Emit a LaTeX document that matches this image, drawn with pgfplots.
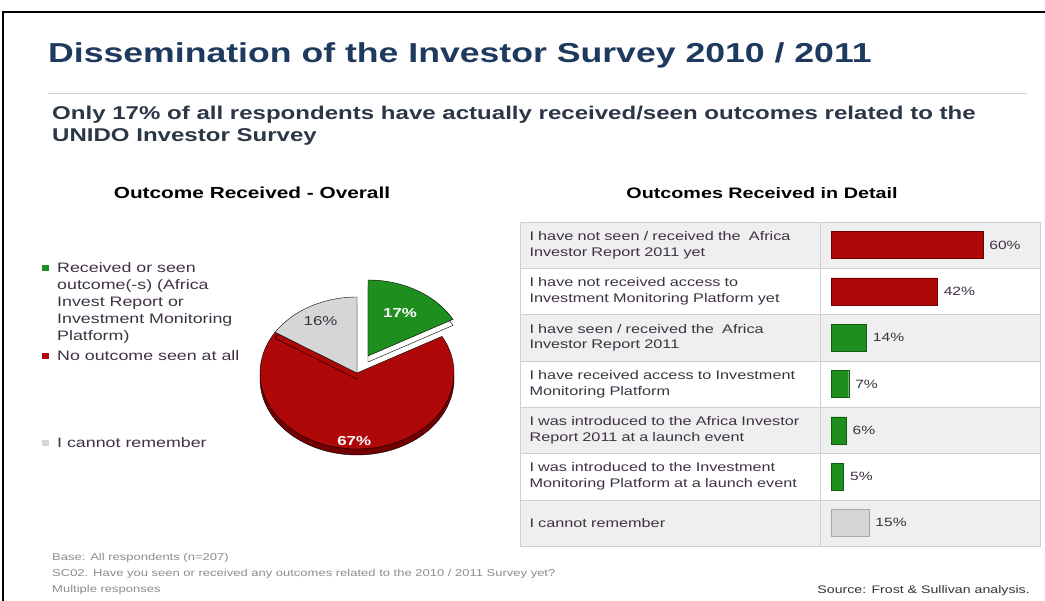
\documentclass[border=0pt]{standalone}
\usepackage{pgfplots}
\pgfplotsset{compat=1.18}
\usepackage{fontspec}
\setmainfont{Liberation Sans}[FakeStretch=1.3]
\pgfkeys{/pgf/number format/assume math mode=true}

\definecolor{navy}{HTML}{1F3A5F}
\definecolor{subcol}{HTML}{2B3646}
\definecolor{txt}{HTML}{3E3242}
\definecolor{foot}{HTML}{8C8C8C}
\definecolor{pgreen}{HTML}{1E8E1E}
\definecolor{pgreenD}{HTML}{0E5E0E}
\definecolor{pred}{HTML}{AE0808}
\definecolor{predD}{HTML}{720000}
\definecolor{pgray}{HTML}{D6D6D6}
\definecolor{pgrayD}{HTML}{A8A8A8}
\definecolor{rowgray}{HTML}{EFEFEF}
\definecolor{gridc}{HTML}{CFCFCF}

% one pie wedge per plot: the point is the wedge's apex, the meta value its share
% args: fill colour, side colour, label colour, label radius factor, label series
\gdef\pieacc{0}
\pgfplotsset{
  wedge/.style n args={5}{scatter, only marks, mark=text, text mark={}, point meta=explicit,
    scatter/@pre marker code/.code={%
      \pgfmathsetmacro\sh{\pgfplotspointmetatransformed}%
      \pgfmathsetmacro\pa{90-3.6*\pieacc}%
      \pgfmathsetmacro\pb{\pa-3.6*\sh}%
      \pgfmathsetmacro\pmid{(\pa+\pb)/2}%
      \pgfmathsetmacro\newacc{\pieacc+\sh}\global\let\pieacc\newacc
      \fill[fill=#2] (0pt,-6pt) -- +(\pa:97pt and 76pt) arc[start angle=\pa, end angle=\pb, x radius=97pt, y radius=76pt] -- cycle;
      \fill[fill=#1] (0pt,0pt) -- (\pa:97pt and 76pt) arc[start angle=\pa, end angle=\pb, x radius=97pt, y radius=76pt] -- cycle;
      \node[text=#3, font=\fontsize{13}{13}\selectfont\fontseries{#5}\selectfont] at (\pmid:{#4*97pt} and {#4*76pt}) {\pgfmathprintnumber[fixed,precision=0]{\sh}\%};
    },
    scatter/@post marker code/.code={}}
}

\begin{document}
\begin{tikzpicture}[x=1pt,y=1pt]
\path[use as bounding box] (0,0) rectangle (1045,601);
\draw[line width=2pt] (3,0) -- (3,589) -- (1045,589);

% headings
\node[anchor=base west, inner sep=0, text=navy, font=\fontsize{27.4}{30}\selectfont\bfseries] at (48,538) {Dissemination of the Investor Survey 2010 / 2011};
\draw[gridc] (48,508) -- (1027,508);
\node[anchor=base west, inner sep=0, text=subcol, font=\fontsize{18.5}{22}\selectfont\bfseries] at (52,481) {Only 17\% of all respondents have actually received/seen outcomes related to the};
\node[anchor=base west, inner sep=0, text=subcol, font=\fontsize{18.5}{22}\selectfont\bfseries] at (52,459) {UNIDO Investor Survey};
\node[anchor=base, inner sep=0, font=\fontsize{16}{18}\selectfont\bfseries] at (252,402) {Outcome Received - Overall};
\node[anchor=base, inner sep=0, font=\fontsize{15.2}{18}\selectfont\bfseries] at (762,402) {Outcomes Received in Detail};

% pie legend
\fill[pgreen] (42,330) rectangle (49,336);
\fill[pred] (42,242) rectangle (49,248);
\fill[pgray] (42,155) rectangle (49,161);
\begin{scope}[every node/.style={anchor=base west, inner sep=0, text=txt, font=\fontsize{13.7}{17}\selectfont}]
\node at (57,328) {Received or seen};
\node at (57,311) {outcome(-s) (Africa};
\node at (57,294) {Invest Report or};
\node at (57,277) {Investment Monitoring};
\node at (57,260) {Platform)};
\node at (57,240) {No outcome seen at all};
\node at (57,153) {I cannot remember};
\end{scope}

% table background
\foreach \k in {0,2,4,6}
  \fill[rowgray] (520,{379-46.286*\k}) rectangle (1040,{379-46.286*(\k+1)});
\foreach \k in {1,...,6}
  \draw[gridc] (520,{379-46.286*\k}) -- (1040,{379-46.286*\k});
\draw[gridc] (520,55) rectangle (1040,379);
\draw[gridc] (820,55) -- (820,379);

% pie chart
\begin{axis}[at={(357pt,228pt)}, anchor=center, hide axis, scale only axis,
  width=240pt, height=200pt, xmin=-120, xmax=120, ymin=-100, ymax=100, clip=false,
  point meta min=0, point meta max=1000]
\addplot[wedge={pgreen}{none}{white}{0.65}{b}] coordinates {(11,17) [17]};
\addplot[wedge={pred}{predD}{white}{0.90}{b}] coordinates {(0,0) [67]};
\addplot[wedge={pgray}{none}{txt}{0.78}{m}] coordinates {(0,0) [16]};
\end{axis}

% bar chart
\begin{axis}[at={(820pt,55pt)}, anchor=south west, scale only axis,
  width=220pt, height=324pt,
  xmin=-4.35, xmax=82.6, ymin=0.5, ymax=7.5, y dir=reverse,
  xbar, bar width=27pt, bar shift=0pt,
  axis line style={draw=none}, major tick length=0pt, xtick=\empty,
  ytick={1,...,7},
  yticklabels={{I have not seen / received the\ \ Africa\\Investor Report 2011 yet},
    {I have not received access to\\Investment Monitoring Platform yet},
    {I have seen / received the\ \ Africa\\Investor Report 2011},
    {I have received access to Investment\\Monitoring Platform},
    {I was introduced to the Africa Investor\\Report 2011 at a launch event},
    {I was introduced to the Investment\\Monitoring Platform at a launch event},
    {I cannot remember}},
  yticklabel style={anchor=west, xshift=-294pt, text width=286pt, align=left,
    text=txt, font=\fontsize{12.5}{15.7}\selectfont},
  point meta=x,
  nodes near coords={\pgfmathprintnumber{\pgfplotspointmeta}\%},
  every node near coord/.append style={font=\fontsize{12}{12}\selectfont, text=txt, xshift=3pt},
  clip=false]
\addplot[fill=pred, draw=predD] coordinates {(60,1) (42,2)};
\addplot[fill=pgreen, draw=pgreenD] coordinates {(14,3) (7,4) (6,5) (5,6)};
\addplot[fill=pgray, draw=pgrayD] coordinates {(15,7)};
\end{axis}

% footnotes
\begin{scope}[every node/.style={anchor=base west, inner sep=0, text=foot, font=\fontsize{10}{12}\selectfont}]
\node at (52,40) {Base: All respondents (n=207)};
\node at (52,24) {SC02. Have you seen or received any outcomes related to the 2010 / 2011 Survey yet?};
\node at (52,8) {Multiple responses};
\end{scope}
\node[anchor=base east, inner sep=0, text=black!80, font=\fontsize{10.9}{12}\selectfont] at (1030,7) {Source: Frost \& Sullivan analysis.};
\end{tikzpicture}
\end{document}
